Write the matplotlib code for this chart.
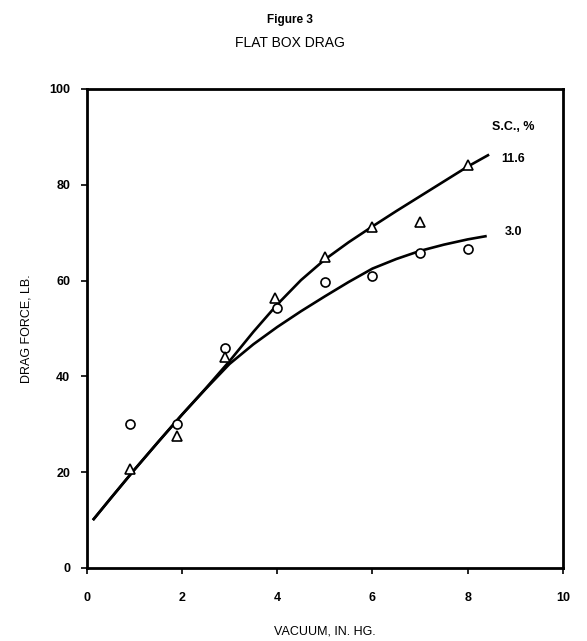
import matplotlib
matplotlib.use("Agg")
import matplotlib.pyplot as plt

plt.rcParams['font.family'] = ['Liberation Sans', 'DejaVu Sans']

# measured points, solids content 3.0 % (circles)
vac_circ = [0.9, 1.9, 2.9, 4.0, 5.0, 6.0, 7.0, 8.0]
drag_circ = [30.0, 30.0, 46.0, 54.2, 59.8, 61.0, 65.8, 66.5]

# measured points, solids content 11.6 % (triangles)
vac_tri = [0.9, 1.9, 2.9, 3.95, 5.0, 6.0, 7.0, 8.0]
drag_tri = [20.6, 27.6, 44.0, 56.3, 65.0, 71.1, 72.3, 84.1]

# hand-drawn fitted curves
curve_x_hi = [0.13, 0.5, 1.0, 1.5, 2.0, 2.5, 3.0, 3.5, 4.0, 4.5, 5.0, 5.5, 6.0, 6.5, 7.0, 7.5, 8.0, 8.45]
curve_y_hi = [10.0, 14.5, 20.5, 26.3, 32.0, 37.5, 43.2, 49.3, 55.0, 60.1, 64.4, 68.0, 71.3, 74.5, 77.6, 80.7, 83.8, 86.3]
curve_x_lo = [0.13, 0.5, 1.0, 1.5, 2.0, 2.5, 3.0, 3.5, 4.0, 4.5, 5.0, 5.5, 6.0, 6.5, 7.0, 7.5, 8.0, 8.4]
curve_y_lo = [10.0, 14.5, 20.5, 26.3, 32.0, 37.4, 42.6, 46.7, 50.3, 53.6, 56.7, 59.7, 62.5, 64.5, 66.2, 67.5, 68.6, 69.3]

x_ticks = [0, 2, 4, 6, 8, 10]
y_ticks = [0, 20, 40, 60, 80, 100]

fig = plt.figure(figsize=(5.87, 6.41), dpi=100)
ax = fig.add_axes([0.1477, 0.1139, 0.8113, 0.7473])

ax.plot(curve_x_hi, curve_y_hi, color='black', lw=1.9, solid_capstyle='butt')
ax.plot(curve_x_lo, curve_y_lo, color='black', lw=1.9, solid_capstyle='butt')
ax.plot(vac_circ, drag_circ, 'o', ms=6.5, mfc='white', mec='black', mew=1.2)
ax.plot(vac_tri, drag_tri, '^', ms=6.5, mfc='white', mec='black', mew=1.2)

ax.text(8.96, 92.1, 'S.C., %', ha='center', va='center', fontsize=9, fontweight='bold')
ax.text(8.96, 85.4, '11.6', ha='center', va='center', fontsize=9, fontweight='bold')
ax.text(8.96, 70.1, '3.0', ha='center', va='center', fontsize=9, fontweight='bold')

ax.set_xlim(0, 10)
ax.set_ylim(0, 100)
ax.set_xticks(x_ticks)
ax.set_yticks(y_ticks)
for s in ax.spines.values():
    s.set_linewidth(2)
ax.tick_params(axis='both', direction='out', length=4, width=1.2, labelsize=9)
ax.tick_params(axis='x', pad=13)
ax.tick_params(axis='y', pad=8)
for lab in ax.get_xticklabels() + ax.get_yticklabels():
    lab.set_fontweight('bold')

ax.set_xlabel('VACUUM, IN. HG.', fontsize=9, labelpad=16)
ax.set_ylabel('DRAG FORCE, LB.', fontsize=9, labelpad=12)

fig.text(0.494, 0.969, 'Figure 3', ha='center', va='center', fontsize=8.5, fontweight='bold')
fig.text(0.494, 0.933, 'FLAT BOX DRAG', ha='center', va='center', fontsize=10)

fig.savefig('out.png', dpi=100)
